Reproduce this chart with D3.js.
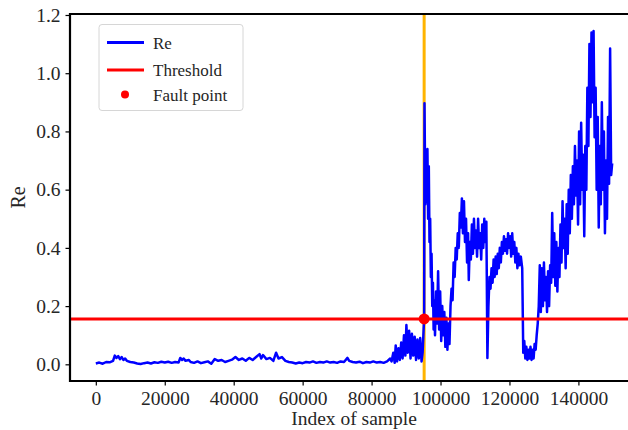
<!DOCTYPE html>
<html>
<head>
<meta charset="utf-8">
<script src="https://cdn.jsdelivr.net/npm/d3@7/dist/d3.min.js"></script>
<style>
  html, body { margin: 0; padding: 0; background: #fff; }
  svg { display: block; }
  text { font-family: "Liberation Serif", "Times New Roman", serif; fill: #262626; }
</style>
</head>
<body>
<svg id="chart" width="628" height="430"></svg>
<script>
// Sample index of each reading of the Re statistic
const sampleIndex = [
  0, 1000, 2000, 3000, 4000, 5000, 5500, 6000, 6500, 7000, 7500, 8000, 8500, 9000, 10000,
  11000, 12000, 13000, 14000, 15000, 16000, 17000, 18000, 19000, 20000, 21000, 22000, 23000,
  24000, 24500, 25000, 25500, 26000, 27000, 27500, 28500, 29500, 30500, 31500, 32500, 33500,
  34500, 35500, 36500, 37500, 38500, 39500, 40500, 41500, 42500, 43500, 44500, 45500, 46500,
  47500, 48000, 48500, 49500, 50500, 51500, 52300, 53000, 54000, 55000, 56000, 57000, 58000,
  59000, 60000, 61000, 62000, 63000, 64000, 65000, 66000, 67000, 68000, 69000, 70000, 71000,
  72000, 73000, 73500, 74500, 75500, 76500, 77500, 78500, 79500, 80500, 81500, 82500, 83500,
  84500, 85400, 85800, 86300, 86700, 87000, 87400, 87800, 88200, 88600, 89000, 89400, 89800,
  90100, 90500, 90900, 91300, 91700, 92100, 92500, 92900, 93300, 93700, 94100, 94500, 94800,
  95100, 95250, 95350, 95600, 95900, 96200, 96400, 96600, 96800, 97000, 97200, 97400, 97600,
  97800, 98000, 98200, 98400, 98700, 99000, 99300, 99600, 99900, 100200, 100500, 100800,
  101100, 101400, 101700, 102000, 102300, 102600, 102900, 103200, 103500, 103800, 104100,
  104400, 104700, 105000, 105300, 105600, 105900, 106200, 106500, 106800, 107100, 107400,
  107700, 108000, 108200, 108500, 108800, 109100, 109400, 109700, 110000, 110300, 110600,
  110900, 111200, 111500, 111800, 112100, 112400, 112700, 113000, 113300, 113600, 113900,
  114200, 114500, 114800, 115100, 115400, 115700, 116000, 116300, 116600, 116900, 117200,
  117500, 117800, 118100, 118400, 118700, 119000, 119300, 119600, 119900, 120200, 120500,
  120800, 121100, 121400, 121700, 122000, 122300, 122600, 122900, 123300, 123700, 124000,
  124300, 124600, 124900, 125200, 125500, 125800, 126100, 126400, 126700, 127000, 127300,
  127600, 127900, 128200, 128500, 128800, 129100, 129400, 129700, 130000, 130300, 130600,
  130900, 131200, 131500, 131800, 132100, 132400, 132700, 133000, 133300, 133600, 133900,
  134200, 134500, 134800, 135100, 135400, 135700, 136000, 136300, 136600, 136900, 137200,
  137500, 137800, 138100, 138400, 138700, 139000, 139300, 139600, 139900, 140200, 140500,
  140800, 141100, 141400, 141700, 142000, 142300, 142600, 142900, 143200, 143500, 143800,
  144100, 144400, 144700, 145000, 145300, 145600, 145900, 146200, 146500, 146800, 147100,
  147400, 147700, 148000, 148300, 148600, 148900, 149200, 149500, 149800
];

// Re value at each sample index above
const reValues = [
  0.003, 0.006, 0.002, 0.008, 0.007, 0.012, 0.030, 0.022, 0.028, 0.018, 0.025, 0.015, 0.020, 0.012, 0.008,
  0.006, 0.003, 0.001, 0.004, 0.006, 0.003, 0.007, 0.005, 0.009, 0.006, 0.009, 0.005, 0.008,
  0.006, 0.022, 0.015, 0.020, 0.012, 0.015, 0.008, 0.005, 0.010, 0.004, 0.007, 0.010, 0.002,
  0.018, 0.012, 0.015, 0.008, 0.012, 0.016, 0.025, 0.015, 0.020, 0.012, 0.022, 0.015, 0.025,
  0.035, 0.020, 0.032, 0.018, 0.022, 0.012, 0.040, 0.020, 0.025, 0.012, 0.008, 0.006, 0.003,
  0.006, 0.004, 0.008, 0.006, 0.010, 0.005, 0.008, 0.006, 0.010, 0.006, 0.008, 0.005, 0.010,
  0.008, 0.022, 0.012, 0.008, 0.006, 0.009, 0.004, 0.008, 0.006, 0.010, 0.006, 0.008, 0.005,
  0.010, 0.020, 0.010, 0.040, 0.005, 0.065, 0.010, 0.055, 0.015, 0.075, 0.020, 0.100, 0.030,
  0.135, 0.040, 0.115, 0.020, 0.105, 0.030, 0.095, 0.015, 0.085, 0.020, 0.090, 0.010, 0.040,
  0.120, 0.156, 0.897, 0.550, 0.620, 0.740, 0.500, 0.680, 0.420, 0.500, 0.300, 0.380, 0.200,
  0.280, 0.120, 0.220, 0.100, 0.250, 0.140, 0.320, 0.120, 0.250, 0.080, 0.200, 0.100,
  0.180, 0.060, 0.160, 0.050, 0.140, 0.070, 0.200, 0.260, 0.220, 0.350, 0.300,
  0.400, 0.360, 0.450, 0.400, 0.520, 0.470, 0.570, 0.450, 0.560, 0.420, 0.500,
  0.350, 0.450, 0.290, 0.420, 0.360, 0.480, 0.380, 0.500, 0.400, 0.460, 0.370,
  0.500, 0.400, 0.450, 0.360, 0.480, 0.400, 0.500, 0.420, 0.490, 0.022, 0.200,
  0.300, 0.260, 0.330, 0.280, 0.360, 0.300, 0.370, 0.310, 0.380, 0.330, 0.400,
  0.350, 0.420, 0.380, 0.440, 0.390, 0.430, 0.380, 0.450, 0.400, 0.440, 0.370,
  0.450, 0.380, 0.420, 0.350, 0.400, 0.330, 0.380, 0.340, 0.370, 0.330, 0.040,
  0.080, 0.020, 0.060, 0.015, 0.050, 0.020, 0.060, 0.015, 0.050, 0.020, 0.070,
  0.050, 0.100, 0.140, 0.200, 0.340, 0.180, 0.330, 0.200, 0.350, 0.220, 0.300,
  0.180, 0.320, 0.200, 0.340, 0.280, 0.520, 0.300, 0.450, 0.270, 0.420, 0.250,
  0.400, 0.300, 0.480, 0.350, 0.560, 0.400, 0.500, 0.330, 0.550, 0.380, 0.600,
  0.450, 0.650, 0.500, 0.680, 0.550, 0.750, 0.580, 0.700, 0.480, 0.800, 0.550,
  0.830, 0.600, 0.720, 0.440, 0.750, 0.600, 0.950, 0.750, 1.100, 0.850, 1.140,
  0.900, 1.145, 0.780, 0.950, 0.600, 0.850, 0.470, 0.750, 0.550, 0.900, 0.600,
  0.800, 0.450, 0.700, 0.500, 0.850, 0.620, 1.085, 0.650, 0.690
];

const thresholdValue = [0.156];
const faultPoint = [{ index: 95250, value: 0.156 }];

const xTickValues = [0, 20000, 40000, 60000, 80000, 100000, 120000, 140000];
const yTickValues = [0.0, 0.2, 0.4, 0.6, 0.8, 1.0, 1.2];

const legendLabels = ["Re", "Threshold", "Fault point"];

const series = sampleIndex.map((idx, i) => ({ index: idx, value: reValues[i] }));

// Plot frame
const margin = { left: 70, top: 14, right: 638, bottom: 381 };
const svg = d3.select("#chart");

const x = d3.scaleLinear().domain([-7490, 157290]).range([margin.left, margin.right]);
const y = d3.scaleLinear().domain([-0.0573, 1.2034]).range([margin.bottom, margin.top]);

svg.append("defs").append("clipPath").attr("id", "plot-clip")
  .append("rect")
  .attr("x", margin.left).attr("y", margin.top)
  .attr("width", margin.right - margin.left).attr("height", margin.bottom - margin.top);

const plot = svg.append("g").attr("clip-path", "url(#plot-clip)");

// Vertical marker through the fault index
plot.selectAll("line.fault-marker").data(faultPoint).join("line")
  .attr("class", "fault-marker")
  .attr("x1", d => x(d.index)).attr("x2", d => x(d.index))
  .attr("y1", margin.top).attr("y2", margin.bottom)
  .attr("stroke", "#FFB400").attr("stroke-width", 3);

// Re signal
const line = d3.line().x(d => x(d.index)).y(d => y(d.value));
plot.append("path").datum(series)
  .attr("d", line)
  .attr("fill", "none")
  .attr("stroke", "#0000FF")
  .attr("stroke-width", 2.5)
  .attr("stroke-linejoin", "round");

// Threshold
plot.selectAll("line.threshold").data(thresholdValue).join("line")
  .attr("class", "threshold")
  .attr("x1", margin.left).attr("x2", margin.right)
  .attr("y1", d => y(d)).attr("y2", d => y(d))
  .attr("stroke", "#FF0000").attr("stroke-width", 3);

// Fault point
plot.selectAll("circle.fault").data(faultPoint).join("circle")
  .attr("class", "fault")
  .attr("cx", d => x(d.index)).attr("cy", d => y(d.value))
  .attr("r", 5.5).attr("fill", "#FF0000");

// Axes
const xAxis = d3.axisBottom(x).tickValues(xTickValues).tickFormat(d3.format("d"))
  .tickSizeInner(4.5).tickSizeOuter(0).tickPadding(6);
const yAxis = d3.axisLeft(y).tickValues(yTickValues).tickFormat(d3.format(".1f"))
  .tickSizeInner(4.5).tickSizeOuter(0).tickPadding(5);

const gx = svg.append("g").attr("transform", `translate(0,${margin.bottom})`).call(xAxis);
const gy = svg.append("g").attr("transform", `translate(${margin.left},0)`).call(yAxis);

[gx, gy].forEach(g => {
  g.select(".domain").remove();
  g.selectAll(".tick line").attr("stroke", "#000").attr("stroke-width", 1.2);
  g.selectAll(".tick text").style("font-size", "19.5px").attr("fill", "#262626");
});

// Spines (left, bottom, top)
svg.append("line").attr("x1", margin.left).attr("x2", margin.left)
  .attr("y1", margin.top - 1).attr("y2", margin.bottom + 1)
  .attr("stroke", "#000").attr("stroke-width", 2.2);
svg.append("line").attr("x1", margin.left - 1).attr("x2", margin.right)
  .attr("y1", margin.bottom).attr("y2", margin.bottom)
  .attr("stroke", "#000").attr("stroke-width", 2.2);
svg.append("line").attr("x1", margin.left - 1).attr("x2", margin.right)
  .attr("y1", margin.top).attr("y2", margin.top)
  .attr("stroke", "#000").attr("stroke-width", 2.2);

// Axis titles
svg.append("text")
  .attr("x", (margin.left + margin.right) / 2).attr("y", 425)
  .attr("text-anchor", "middle").style("font-size", "19.5px")
  .text("Index of sample");
svg.append("text")
  .attr("transform", `translate(25,${(margin.top + margin.bottom) / 2}) rotate(-90)`)
  .attr("text-anchor", "middle").style("font-size", "20px")
  .text("Re");

// Legend
const legend = svg.append("g").attr("transform", "translate(99,24.5)");
legend.append("rect")
  .attr("width", 144).attr("height", 86).attr("rx", 3)
  .attr("fill", "#fff").attr("fill-opacity", 0.8)
  .attr("stroke", "#d6d6d6").attr("stroke-width", 1);

const legendRows = legend.selectAll("g.row").data(legendLabels).join("g")
  .attr("class", "row")
  .attr("transform", (d, i) => `translate(0,${[18, 45.5, 70][i]})`);

legendRows.each(function (d, i) {
  const g = d3.select(this);
  if (i === 0 || i === 1) {
    g.append("line").attr("x1", 8).attr("x2", 45).attr("y1", 0).attr("y2", 0)
      .attr("stroke", i === 0 ? "#0000FF" : "#FF0000").attr("stroke-width", 3);
  } else {
    g.append("circle").attr("cx", 26).attr("cy", 0).attr("r", 4).attr("fill", "#FF0000");
  }
  g.append("text").attr("x", 54).attr("y", 6).style("font-size", "17px").text(d);
});
</script>
</body>
</html>
